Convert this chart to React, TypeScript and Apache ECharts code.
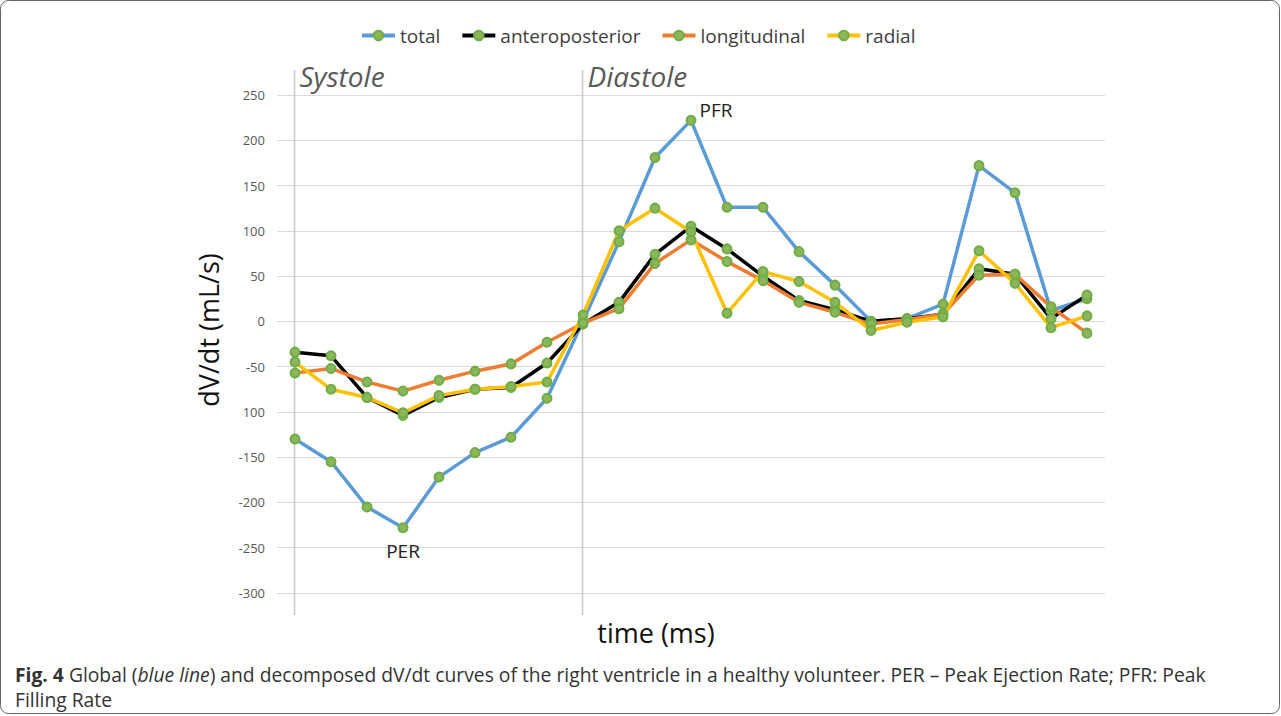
import React, { useEffect, useRef } from "react";
import * as echarts from "echarts";

const categories = Array.from({ length: 23 }, (_, i) => String(i + 1));
const total = [-130, -155, -205, -228, -172, -145, -128, -85, 0, 88, 181, 222, 126, 126, 77, 40, 0, 3, 19, 172, 142, 12, 25];
const anteroposterior = [-34, -38, -84, -104, -84, -75, -73, -46, -3, 21, 74, 105, 80, 50, 23, 13, 0, 3, 8, 58, 52, 3, 29];
const longitudinal = [-57, -52, -67, -77, -65, -55, -47, -23, -2, 14, 64, 90, 66, 45, 21, 10, -3, 2, 8, 51, 52, 16, -13];
const radial = [-45, -75, -84, -101, -82, -75, -72, -67, 7, 100, 125, 99, 9, 55, 44, 21, -10, -1, 5, 78, 42, -7, 6];
const yTicks = { min: -300, max: 250, interval: 50 };
const phaseLabels = [
  { text: "Systole", index: 0 },
  { text: "Diastole", index: 8 },
];
const seriesNames = ["total", "anteroposterior", "longitudinal", "radial"];
const seriesColors = ["#5B9BD5", "#000000", "#ED7D31", "#FFC000"];

export default function App() {
  const ref = useRef<HTMLDivElement>(null);
  useEffect(() => {
    document.body.style.margin = "0";
    if (!ref.current) return;
    const chart = echarts.init(ref.current, null, { renderer: "svg" });
    const font = "'Open Sans', 'Noto Sans', sans-serif";
    const peakIdxMin = total.indexOf(Math.min(...total));
    const peakIdxMax = total.indexOf(Math.max(...total));
    const dataSets = [total, anteroposterior, longitudinal, radial];
    const series = dataSets.map((d, si) => ({
      name: seriesNames[si],
      type: "line",
      data: d.map((v, i) => {
        if (si === 0 && i === peakIdxMin)
          return { value: v, label: { show: true, position: "bottom", distance: 8, formatter: "PER", fontSize: 19, color: "#222", fontFamily: font } };
        if (si === 0 && i === peakIdxMax)
          return { value: v, label: { show: true, position: "right", distance: 3, offset: [0, -10], formatter: "PFR", fontSize: 19, color: "#222", fontFamily: font } };
        return v;
      }),
      symbol: "circle",
      symbolSize: 9,
      showAllSymbol: true,
      lineStyle: { color: seriesColors[si], width: 3.5 },
      itemStyle: { color: "#8DB55A", borderColor: "#70AD47", borderWidth: 2 },
      emphasis: { disabled: true },
    }));
    chart.setOption({
      animation: false,
      textStyle: { fontFamily: font },
      legend: {
        top: 21,
        left: 355,
        itemWidth: 33,
        itemHeight: 12,
        itemGap: 20,
        textStyle: { fontSize: 19, color: "#404040", fontFamily: font },
        data: seriesNames.map((n, i) => ({ name: n, itemStyle: { color: "#8DB55A", borderColor: "#70AD47", borderWidth: 2 }, lineStyle: { color: seriesColors[i], width: 4 } })),
      },
      grid: { left: 277, right: 176, top: 95, bottom: 123 },
      xAxis: {
        type: "category",
        data: categories,
        boundaryGap: true,
        axisLine: { show: false },
        axisTick: { show: false },
        axisLabel: { show: false },
      },
      yAxis: {
        type: "value",
        min: yTicks.min,
        max: yTicks.max,
        interval: yTicks.interval,
        axisLine: { show: false },
        axisTick: { show: false },
        axisLabel: {
          fontSize: 13,
          color: "#595959",
          margin: 12,
          formatter: (v: number) => (v === -100 ? "100" : String(v)),
        },
        splitLine: { lineStyle: { color: "#d9d9d9", width: 1 } },
      },
      series,
    });
    const topY = 70;
    const botY = 615;
    const graphics: any[] = [];
    phaseLabels.forEach((p) => {
      const x = Math.round(chart.convertToPixel({ xAxisIndex: 0 }, p.index) as number) - 0.5;
      graphics.push({ type: "line", shape: { x1: x, y1: topY, x2: x, y2: botY }, style: { stroke: "#c8c8c8", lineWidth: 1.5 }, silent: true });
      graphics.push({ type: "text", x: x + 5, y: 76, style: { text: p.text, fontSize: 28, fontStyle: "italic", fill: "#595959", fontFamily: font, verticalAlign: "middle" } });
    });
    graphics.push({ type: "text", x: 656, y: 632, style: { text: "time (ms)", fontSize: 27, fill: "#111", fontFamily: font, align: "center", verticalAlign: "middle" } });
    graphics.push({ type: "text", x: 208, y: 330, rotation: Math.PI / 2, style: { text: "dV/dt (mL/s)", fontSize: 27, fill: "#111", fontFamily: font, align: "center", verticalAlign: "middle" } });
    graphics.push({ type: "rect", shape: { x: 0.5, y: 0.5, width: 1279, height: 713, r: 8 }, style: { fill: "none", stroke: "#666", lineWidth: 1 }, silent: true });
    graphics.push({
      type: "text",
      x: 15,
      y: 662,
      style: {
        text: "{b|Fig. 4} Global ({i|blue line}) and decomposed dV/dt curves of the right ventricle in a healthy volunteer. PER – Peak Ejection Rate; PFR: Peak\nFilling Rate",
        fontSize: 19.3,
        lineHeight: 25,
        fill: "#333",
        fontFamily: font,
        rich: {
          b: { fontWeight: "bold", fontSize: 19.3, fill: "#333", fontFamily: font },
          i: { fontStyle: "italic", fontSize: 19.3, fill: "#333", fontFamily: font },
        },
      },
    });
    chart.setOption({ graphic: graphics });
    return () => chart.dispose();
  }, []);
  return <div ref={ref} style={{ width: 1281, height: 716 }} />;
}
